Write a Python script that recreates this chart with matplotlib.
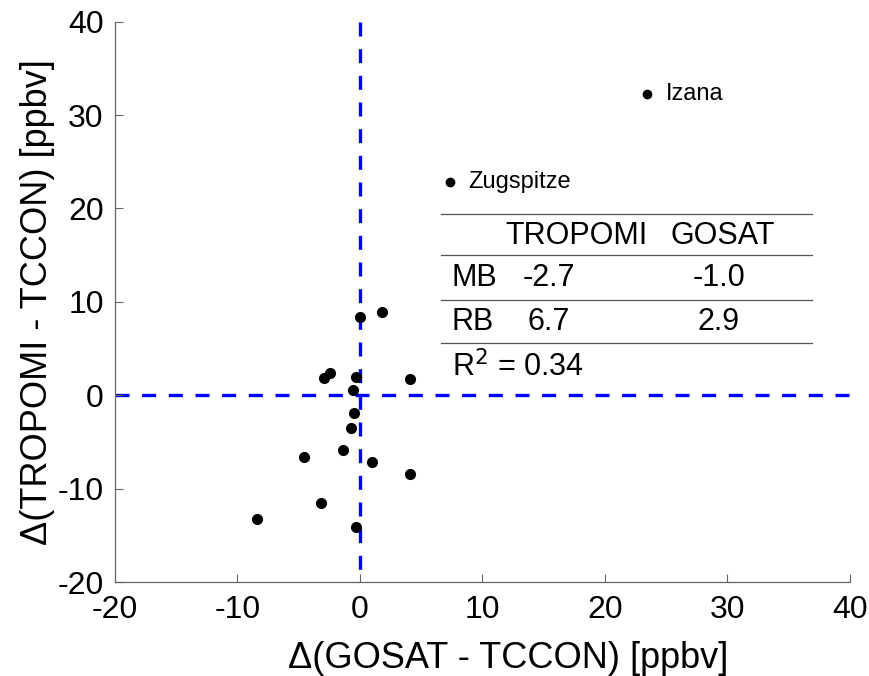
import numpy as np
import matplotlib
matplotlib.use("Agg")
import matplotlib.pyplot as plt

plt.rcParams['font.family'] = ['Liberation Sans', 'DejaVu Sans']
plt.rcParams['axes.unicode_minus'] = False

# Data: differences to TCCON [ppbv]
d_gosat = np.array([0.0, 1.8, -2.45, -2.9, -0.33, 4.13, -0.6, -0.46, -0.73,
                    -1.4, -4.56, 0.95, 4.13, -3.2, -8.4, -0.33])
d_tropomi = np.array([8.4, 8.9, 2.4, 1.8, 2.0, 1.7, 0.6, -1.9, -3.5,
                      -5.9, -6.6, -7.1, -8.4, -11.5, -13.3, -14.1])

# labelled stations
site_names = ["Izana", "Zugspitze"]
site_gosat = np.array([23.45, 7.33])
site_tropomi = np.array([32.3, 22.8])

# statistics table
stat_rows = ["MB", "RB"]
stat_tropomi = ["-2.7", "6.7"]
stat_gosat = ["-1.0", "2.9"]
r2 = 0.34

fig = plt.figure(figsize=(8.7, 6.76), dpi=100)
ax = fig.add_axes([0.132, 0.139, 0.845, 0.829])

# zero lines, drawn from the top / left so the dashes start at the edge
ax.plot([0, 0], [40, -20], color=(0, 0, 1), lw=2.4, dashes=(4.2, 3.8), zorder=1)
ax.plot([-20, 40], [0, 0], color=(0, 0, 1), lw=2.4, dashes=(4.2, 3.8), zorder=1)

ax.plot(d_gosat, d_tropomi, 'o', color='k', ms=7, zorder=3)
ax.plot(site_gosat, site_tropomi, 'o', color='k', ms=6, zorder=3)
for name, gx, ty in zip(site_names, site_gosat, site_tropomi):
    ax.text(gx + 1.5, ty, name, fontsize=17, va='center', ha='left')

# table
line_y = [19.4, 15.05, 10.2, 5.6]
for yl in line_y:
    ax.plot([6.65, 36.9], [yl, yl], color='#555555', lw=0.9, zorder=2)
fs = 22
ax.text(17.7, 17.1, "TROPOMI", fontsize=fs, ha='center', va='center')
ax.text(29.6, 17.1, "GOSAT", fontsize=fs, ha='center', va='center')
row_y = [12.5, 7.8]
for yr, name, tv, gv in zip(row_y, stat_rows, stat_tropomi, stat_gosat):
    ax.text(7.5, yr, name, fontsize=fs, ha='left', va='center')
    ax.text(15.4, yr, tv, fontsize=fs, ha='center', va='center')
    ax.text(29.3, yr, gv, fontsize=fs, ha='center', va='center')
ax.text(7.5, 3.0, "R$^2$ = %.2f" % r2, fontsize=fs, ha='left', va='center')

ax.set_xlim(-20, 40)
ax.set_ylim(-20, 40)
ax.set_xticks(np.arange(-20, 41, 10))
ax.set_yticks(np.arange(-20, 41, 10))
for s in ['top', 'right']:
    ax.spines[s].set_visible(False)
for s in ['left', 'bottom']:
    ax.spines[s].set_color('#666666')
    ax.spines[s].set_linewidth(0.9)
ax.tick_params(direction='in', length=6, width=0.8, color='#666666',
               labelsize=23)
ax.tick_params(axis='x', pad=9)
ax.tick_params(axis='y', pad=8)
ax.set_xlabel("Δ(GOSAT - TCCON) [ppbv]", fontsize=26)
ax.set_ylabel("Δ(TROPOMI - TCCON) [ppbv]", fontsize=26, labelpad=2)
ax.xaxis.set_label_coords(0.535, -0.105)

fig.savefig("out.png", dpi=100)
